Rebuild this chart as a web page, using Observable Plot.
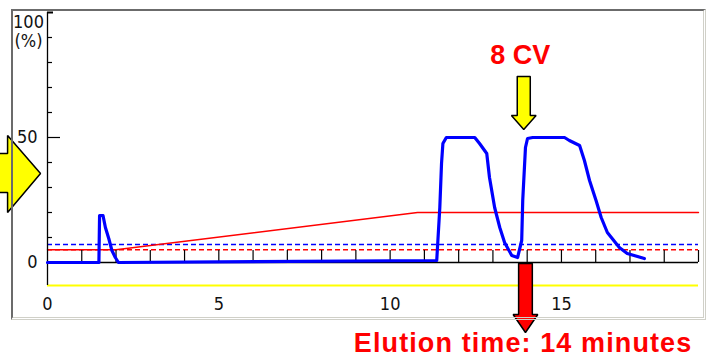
<!DOCTYPE html>
<html>
<head>
<meta charset="utf-8">
<script src="https://cdn.jsdelivr.net/npm/d3@7"></script>
<script src="https://cdn.jsdelivr.net/npm/@observablehq/plot@0.6"></script>
<style>
  html, body { margin: 0; padding: 0; background: #fff; }
  #wrap { position: relative; width: 717px; height: 358px; overflow: hidden; }
  #frame {
    position: absolute; left: 11px; top: 9px; width: 695px; height: 311px;
    box-sizing: border-box; pointer-events: none;
    border-top: 2px solid #6b6b6b; border-left: 2px solid #6b6b6b;
    border-right: 3px double #d0d0c8; border-bottom: 3px double #d0d0c8;
  }
</style>
</head>
<body>
<div id="wrap"><div id="frame"></div></div>
<script>
// ---- data (time in minutes, signal in %) ----
const uvTime  = [0, 1.50, 1.52, 1.62, 1.69, 1.79, 1.88, 1.98, 2.07, 11.36, 11.45, 11.50, 11.54, 11.64, 12.47, 12.61, 12.82, 12.90, 13.05, 13.20, 13.34, 13.55, 13.72, 13.84, 13.87, 13.95, 14.01, 14.16, 15.09, 15.23, 15.53, 15.67, 15.82, 16.01, 16.16, 16.34, 16.69, 16.92, 17.42];
const uvValue = [0, 0, 18.8, 18.8, 14, 9.5, 4.8, 2, 0, 0.8, 22, 39.6, 47.6, 50, 50, 47.6, 43.6, 34, 22, 14, 8, 2.8, 2, 8.8, 24.8, 46, 49.6, 50, 50, 48.8, 46.8, 40.8, 32.8, 24.8, 18, 12, 6, 3.6, 1.6];
const gradTime  = [0, 2.0, 10.8, 19];
const gradValue = [5.1, 5.1, 20, 20];
const thresholdBlue = [7.2];
const thresholdRed  = [5.1];
const baselineYellow = [-9.2];
const timeRange = [0, 19];
const xTickLabels = [0, 5, 10, 15];
const xTickMinor = d3.range(1, 20);
const yTickMinor = [10, 20, 30, 40, 60, 70, 80, 90];
const yTickMajor = [50];
const yTickLabels = [0, 50];
const elutionTime = 13.95;
const cvTime = 13.9;
const cvLabel = "8 CV";
const elutionLabel = "Elution time: 14 minutes";

const uv = uvTime.map((t, i) => ({t, v: uvValue[i]}));
const grad = gradTime.map((t, i) => ({t, v: gradValue[i]}));

// block arrows (in chart coordinates)
function downArrow(cx, yTop, yBase, yTip, hs, hh) {
  return [
    {x: cx - hs, y: yTop}, {x: cx + hs, y: yTop}, {x: cx + hs, y: yBase},
    {x: cx + hh, y: yBase}, {x: cx, y: yTip}, {x: cx - hh, y: yBase},
    {x: cx - hs, y: yBase}, {x: cx - hs, y: yTop}
  ];
}
const leftArrow = [
  {x: -2, y: 43.6}, {x: -1.165, y: 43.6}, {x: -1.165, y: 50.8}, {x: -0.204, y: 35.6},
  {x: -1.165, y: 20}, {x: -1.165, y: 28}, {x: -2, y: 28}
];
const cvArrow = downArrow(cvTime, 74.4, 58.8, 53.2, 0.19, 0.36);
const elArrow = downArrow(elutionTime, -0.4, -20.8, -28, 0.2, 0.36);

const tickFont = "'Liberation Sans Narrow', 'DejaVu Sans Condensed', sans-serif";
const boldFont = "'Liberation Sans', Arial, sans-serif";

const chart = Plot.plot({
  width: 717,
  height: 358,
  marginLeft: 47,
  marginRight: 19,
  marginTop: 12,
  marginBottom: 71,
  x: {domain: timeRange, axis: null},
  y: {domain: [-10, 100], axis: null},
  style: {background: "transparent", overflow: "visible"},
  marks: [
    Plot.ruleY(baselineYellow, {x1: timeRange[0], x2: timeRange[1], stroke: "#ffff00", strokeWidth: 2}),
    Plot.ruleY(thresholdBlue, {x1: timeRange[0], x2: timeRange[1], stroke: "#0000ff", strokeWidth: 1.3, strokeDasharray: "5,3"}),
    Plot.ruleY(thresholdRed, {x1: timeRange[0], x2: timeRange[1], stroke: "#ff0000", strokeWidth: 1.3, strokeDasharray: "5,3"}),
    Plot.line(grad, {x: "t", y: "v", stroke: "#ff0000", strokeWidth: 1.4}),
    Plot.ruleX([0], {y1: baselineYellow[0], y2: 100, stroke: "#000", strokeWidth: 1.3}),
    Plot.ruleY([0], {x1: timeRange[0], x2: timeRange[1], stroke: "#000", strokeWidth: 1.3}),
    Plot.ruleX(xTickMinor, {y1: 0, y2: 0, insetTop: -12, stroke: "#000", strokeWidth: 1.2}),
    Plot.ruleY(yTickMinor, {x1: 0, x2: 0, insetRight: -5, stroke: "#000", strokeWidth: 1.2}),
    Plot.ruleY(yTickMajor, {x1: 0, x2: 0, insetRight: -13, stroke: "#000", strokeWidth: 1.2}),
    Plot.ruleY([100], {x1: 0, x2: 0, insetRight: -6, stroke: "#000", strokeWidth: 2}),
    Plot.text(xTickLabels, {x: d => d, y: 0, dy: 42, text: d => String(d), fontFamily: tickFont, fontSize: 18, fill: "#111"}),
    Plot.text(yTickLabels, {x: 0, y: d => d, dx: -10, textAnchor: "end", text: d => String(d), fontFamily: tickFont, fontSize: 18, fill: "#111"}),
    Plot.text(["100"], {x: 0, y: 100, dx: -19, dy: 9.5, text: d => d, fontFamily: tickFont, fontSize: 18, fill: "#111"}),
    Plot.text(["(%)"], {x: 0, y: 100, dx: -19, dy: 29, text: d => d, fontFamily: tickFont, fontSize: 18, fill: "#111"}),
    Plot.line(uv, {x: "t", y: "v", stroke: "#0000ff", strokeWidth: 3.2, strokeLinejoin: "round", strokeLinecap: "round"}),
    Plot.line(leftArrow, {x: "x", y: "y", fill: "#ffff00", stroke: "#000", strokeWidth: 1.5, strokeLinejoin: "miter"}),
    Plot.line(cvArrow, {x: "x", y: "y", fill: "#ffff00", stroke: "#000", strokeWidth: 1.5, strokeLinejoin: "miter"}),
    Plot.line(elArrow, {x: "x", y: "y", fill: "#ff0000", stroke: "#000", strokeWidth: 1.5, strokeLinejoin: "miter"}),
    Plot.text([cvLabel], {x: cvTime - 0.1, y: 82.8, text: d => d, fontFamily: boldFont, fontWeight: "bold", fontSize: 27, fill: "#ff0000"}),
    Plot.text([elutionLabel], {x: elutionTime - 0.07, y: -32.4, text: d => d, fontFamily: boldFont, fontWeight: "bold", fontSize: 27, fill: "#ff0000"})
  ]
});
d3.select(chart).selectAll("text").filter(function () { return this.textContent === elutionLabel; })
  .style("letter-spacing", "1.1px");
document.getElementById("wrap").prepend(chart);
chart.style.position = "absolute";
chart.style.left = "0px";
chart.style.top = "0px";
</script>
</body>
</html>
